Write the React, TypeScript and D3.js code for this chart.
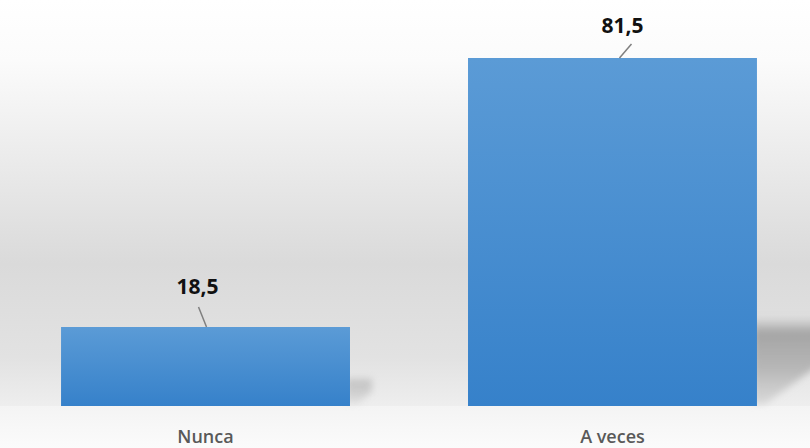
import React from 'react';
import * as d3 from 'd3';

const categories = ['Nunca', 'A veces'];
const values = [18.5, 81.5];
const valueLabels = ['18,5', '81,5'];

const W = 810;
const H = 448;

// leader line ends, relative to bar centre / bar top: [bottomDx, topDx, topDy]
const leader = [
  [1, -7, -20],
  [7, 19, -14],
];
// value label position relative to bar centre / bar top
const labelPos = [
  [-8, -33],
  [10, -25],
];

export default function App() {
  const baseline = 406;
  const x = d3.scaleBand<string>()
    .domain(categories)
    .range([0, 818])
    .paddingInner(0.29)
    .paddingOuter(0.15);
  const y = d3.scaleLinear().domain([0, 81.5]).range([baseline, 58]);

  const font = "'Open Sans', 'DejaVu Sans', sans-serif";

  return (
    <svg width={W} height={H} style={{ position: 'absolute', left: 0, top: 0 }}>
      <defs>
        <linearGradient id="wall" x1="0" y1="0" x2="0" y2={baseline} gradientUnits="userSpaceOnUse">
          <stop offset="0" stopColor="#ffffff" />
          <stop offset="0.15" stopColor="#fbfbfb" />
          <stop offset="0.65" stopColor="#dadada" />
          <stop offset="0.88" stopColor="#e2e2e2" />
          <stop offset="1" stopColor="#eeeeee" />
        </linearGradient>
        <linearGradient id="floor" x1="0" y1="0" x2="0" y2="1">
          <stop offset="0" stopColor="#f4f4f4" />
          <stop offset="1" stopColor="#fbfbfb" />
        </linearGradient>
        <linearGradient id="bar" x1="0" y1="0" x2="0" y2="1">
          <stop offset="0" stopColor="#5b9bd6" />
          <stop offset="1" stopColor="#3681ca" />
        </linearGradient>
        <linearGradient id="shade" x1="0" y1="0" x2="0" y2="1">
          <stop offset="0" stopColor="#999" stopOpacity="0" />
          <stop offset="0.18" stopColor="#9a9a9a" stopOpacity="0.85" />
          <stop offset="0.6" stopColor="#a8a8a8" stopOpacity="0.75" />
          <stop offset="1" stopColor="#c4c4c4" stopOpacity="0.5" />
        </linearGradient>
        <filter id="blur" x="-50%" y="-50%" width="200%" height="200%">
          <feGaussianBlur stdDeviation="3.5" />
        </filter>
      </defs>

      <rect x={0} y={0} width={W} height={baseline} fill="url(#wall)" />
      <rect x={0} y={baseline} width={W} height={H - baseline} fill="url(#floor)" />

      {categories.map((c, i) => {
        const x0 = x(c)!;
        const x1 = x0 + x.bandwidth();
        const cx = x0 + x.bandwidth() / 2;
        const top = y(values[i]);
        const h = baseline - top;
        const sh = h * 0.22 + 12;
        const sw = sh * 0.75;
        return (
          <g key={c}>
            <path
              d={`M${x1 - 4},${baseline - sh} L${x1 + sw},${baseline - sh} L${x1 + sw},${baseline - sh * 0.5} L${x1 + 8},${baseline - 2} L${x1 - 4},${baseline - 2} Z`}
              fill="url(#shade)"
              filter="url(#blur)"
              opacity={i === 0 ? 0.55 : 1}
            />
            <rect x={x0} y={top} width={x.bandwidth()} height={h} fill="url(#bar)" />
            <line
              x1={cx + leader[i][0]}
              y1={top}
              x2={cx + leader[i][1]}
              y2={top + leader[i][2]}
              stroke="#7f7f7f"
              strokeWidth={1.5}
            />
            <text
              x={cx + labelPos[i][0]}
              y={top + labelPos[i][1]}
              textAnchor="middle"
              fontFamily={font}
              fontWeight={700}
              fontSize={21}
              fill="#111"
            >
              {valueLabels[i]}
            </text>
            <text
              x={cx}
              y={443}
              textAnchor="middle"
              fontFamily={font}
              fontWeight={600}
              fontSize={18}
              fill="#595959"
            >
              {c}
            </text>
          </g>
        );
      })}
    </svg>
  );
}
